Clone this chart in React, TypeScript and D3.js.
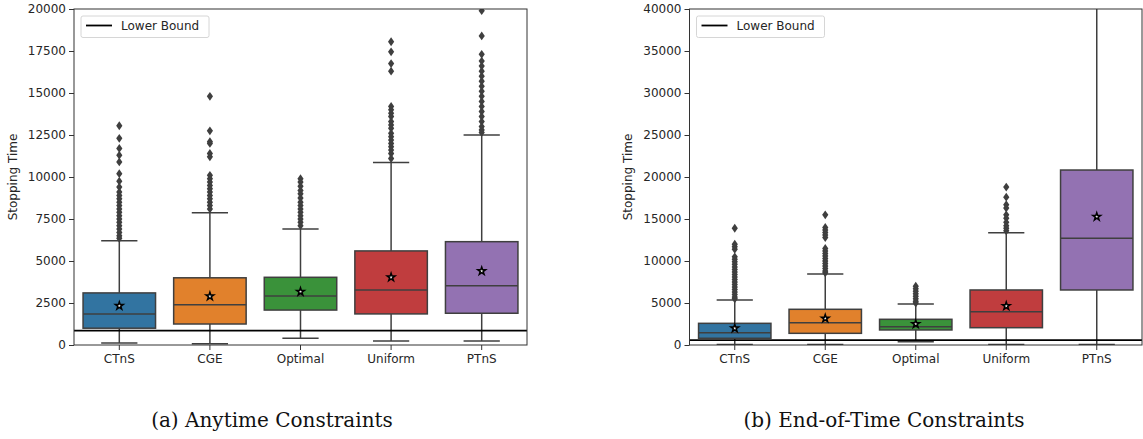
import React, { useEffect, useRef } from "react";
import * as d3 from "d3";

const W = 1143;
const H = 439;

const categories = ["CTnS", "CGE", "Optimal", "Uniform", "PTnS"];
const colors = ["#3274a1", "#e1812c", "#3a923a", "#c03d3e", "#9372b2"];

// (a) Anytime constraints
const aQ1 = [1000, 1250, 2080, 1850, 1890];
const aMedian = [1850, 2400, 2920, 3270, 3530];
const aQ3 = [3100, 4000, 4030, 5600, 6150];
const aMean = [2330, 2900, 3170, 4030, 4400];
const aLow = [120, 80, 400, 240, 240];
const aHigh = [6200, 7870, 6900, 10870, 12500];
const aOutliers = [
  [13050, 12300, 11700, 11300, 10900, 10200, 9750, 9400, 9100, 8900, 8700, 8500, 8300, 8100, 7900, 7700, 7500, 7300, 7100, 6900, 6700, 6500, 6350],
  [14800, 12750, 12100, 12000, 11400, 11200, 10100, 9900, 9700, 9500, 9300, 9100, 8900, 8700, 8500, 8300, 8100],
  [9900, 9700, 9450, 9200, 9000, 8750, 8500, 8300, 8100, 7900, 7700, 7500, 7300, 7100],
  [18050, 17450, 16750, 16300, 14200, 14000, 13800, 13600, 13300, 13100, 12900, 12600, 12400, 12200, 12000, 11800, 11600, 11400, 11100],
  [19900, 18400, 17300, 16900, 16600, 16300, 16000, 15700, 15400, 15100, 14800, 14500, 14200, 13900, 13600, 13300, 13000, 12800, 12650],
];
const aBound = 850;
const aTicks = [0, 2500, 5000, 7500, 10000, 12500, 15000, 17500, 20000];

// (b) End-of-time constraints
const bQ1 = [800, 1390, 1790, 2060, 6550];
const bMedian = [1470, 2660, 2180, 3970, 12700];
const bQ3 = [2580, 4250, 3060, 6550, 20830];
const bMean = [1990, 3170, 2500, 4640, 15270];
const bLow = [50, 50, 400, 50, 50];
const bHigh = [5360, 8450, 4880, 13370, 45000];
const bOutliers = [
  [13900, 12000, 11700, 11400, 10500, 10200, 9900, 9600, 9300, 9000, 8700, 8400, 8100, 7800, 7500, 7200, 6900, 6600, 6300, 6000, 5700, 5500],
  [15500, 14000, 13700, 13400, 13100, 12800, 11500, 11200, 10900, 10600, 10300, 10000, 9700, 9400, 9100, 8800, 8600],
  [7000, 6700, 6400, 6100, 5800, 5500, 5200, 5000],
  [18800, 17600, 16700, 16300, 15500, 15100, 14600, 14200, 13900, 13600],
  [],
];
const bBound = 580;
const bTicks = [0, 5000, 10000, 15000, 20000, 25000, 30000, 35000, 40000];

const panels = [
  { id: "a", left: 74, right: 527, max: 20000, ticks: aTicks, q1: aQ1, med: aMedian, q3: aQ3, mean: aMean, lo: aLow, hi: aHigh, out: aOutliers, bound: aBound, labelX: 13, caption: "(a) Anytime Constraints", capX: 272 },
  { id: "b", left: 689.5, right: 1142, max: 40000, ticks: bTicks, q1: bQ1, med: bMedian, q3: bQ3, mean: bMean, lo: bLow, hi: bHigh, out: bOutliers, bound: bBound, labelX: 628, caption: "(b) End-of-Time Constraints", capX: 884 },
];

const top = 9;
const bottom = 345;
const edge = "#3f3f3f";
const font = "DejaVu Sans";

const App = () => {
  const ref = useRef<SVGSVGElement>(null);

  useEffect(() => {
    const svg = d3.select(ref.current);
    svg.selectAll("*").remove();

    panels.forEach((p) => {
      const x = d3.scaleBand().domain(categories).range([p.left, p.right]).paddingInner(0).paddingOuter(0);
      const y = d3.scaleLinear().domain([0, p.max]).range([bottom, top]);
      const bw = x.bandwidth() * 0.8;
      const g = svg.append("g");

      g.append("clipPath").attr("id", "clip-" + p.id)
        .append("rect").attr("x", p.left).attr("y", top).attr("width", p.right - p.left).attr("height", bottom - top);

      const plot = g.append("g").attr("clip-path", `url(#clip-${p.id})`);

      categories.forEach((c, i) => {
        const cx = (x(c) as number) + x.bandwidth() / 2;
        // whiskers
        plot.append("line").attr("x1", cx).attr("x2", cx).attr("y1", y(p.q3[i])).attr("y2", y(p.hi[i]))
          .attr("stroke", edge).attr("stroke-width", 1.5);
        plot.append("line").attr("x1", cx).attr("x2", cx).attr("y1", y(p.q1[i])).attr("y2", y(p.lo[i]))
          .attr("stroke", edge).attr("stroke-width", 1.5);
        [p.hi[i], p.lo[i]].forEach((v) => {
          plot.append("line").attr("x1", cx - bw / 4).attr("x2", cx + bw / 4).attr("y1", y(v)).attr("y2", y(v))
            .attr("stroke", edge).attr("stroke-width", 1.5);
        });
        // box
        plot.append("rect").attr("x", cx - bw / 2).attr("width", bw)
          .attr("y", y(p.q3[i])).attr("height", y(p.q1[i]) - y(p.q3[i]))
          .attr("fill", colors[i]).attr("stroke", edge).attr("stroke-width", 1.5);
        plot.append("line").attr("x1", cx - bw / 2).attr("x2", cx + bw / 2).attr("y1", y(p.med[i])).attr("y2", y(p.med[i]))
          .attr("stroke", edge).attr("stroke-width", 1.5);
        // outliers
        plot.selectAll(null).data(p.out[i]).enter().append("path")
          .attr("d", "M0,-4.4L3.1,0L0,4.4L-3.1,0Z")
          .attr("transform", (d) => `translate(${cx},${y(d)})`)
          .attr("fill", edge);
        // mean
        plot.append("path").attr("d", d3.symbol().type(d3.symbolStar).size(18)())
          .attr("transform", `translate(${cx},${y(p.mean[i])})`)
          .attr("fill", "#fff").attr("stroke", "#000").attr("stroke-width", 1.5);
      });

      // lower bound
      plot.append("line").attr("x1", p.left).attr("x2", p.right).attr("y1", y(p.bound)).attr("y2", y(p.bound))
        .attr("stroke", "#000").attr("stroke-width", 1.8);

      // axes
      const yAxis = d3.axisLeft(y).tickValues(p.ticks).tickFormat(d3.format("d")).tickSize(5).tickPadding(3);
      const ya = g.append("g").attr("transform", `translate(${p.left},0)`).call(yAxis);
      const xAxis = d3.axisBottom(x).tickSize(5).tickPadding(4);
      const xa = g.append("g").attr("transform", `translate(0,${bottom})`).call(xAxis);
      [ya, xa].forEach((a) => {
        a.select(".domain").remove();
        a.selectAll("line").attr("stroke", "#333");
        a.selectAll("text").attr("font-family", font).attr("font-size", 12).attr("fill", "#262626");
      });

      g.append("rect").attr("x", p.left).attr("y", top).attr("width", p.right - p.left).attr("height", bottom - top)
        .attr("fill", "none").attr("stroke", "#333").attr("stroke-width", 1);

      g.append("text").attr("transform", `translate(${p.labelX},${(top + bottom) / 2}) rotate(-90)`)
        .attr("text-anchor", "middle").attr("dy", "0.35em")
        .attr("font-family", font).attr("font-size", 12).attr("fill", "#262626").text("Stopping Time");

      // legend
      const lg = g.append("g").attr("transform", `translate(${p.left + 7},${top + 7})`);
      lg.append("rect").attr("width", 128).attr("height", 21.5).attr("rx", 2)
        .attr("fill", "#fff").attr("fill-opacity", 0.8).attr("stroke", "#d6d6d6");
      lg.append("line").attr("x1", 5).attr("x2", 31).attr("y1", 9.5).attr("y2", 9.5).attr("stroke", "#000").attr("stroke-width", 1.8);
      lg.append("text").attr("x", 40).attr("y", 9.5).attr("dy", "0.35em")
        .attr("font-family", font).attr("font-size", 12).attr("fill", "#262626").text("Lower Bound");

      svg.append("text").attr("x", p.capX).attr("y", 427).attr("text-anchor", "middle")
        .attr("font-family", "DejaVu Serif").attr("font-size", 20).attr("fill", "#111").text(p.caption);
    });
  }, []);

  return (
    <div style={{ position: "absolute", left: 0, top: 0, background: "#fff" }}>
      <svg ref={ref} width={W} height={H} style={{ display: "block" }}></svg>
    </div>
  );
};

export default App;
